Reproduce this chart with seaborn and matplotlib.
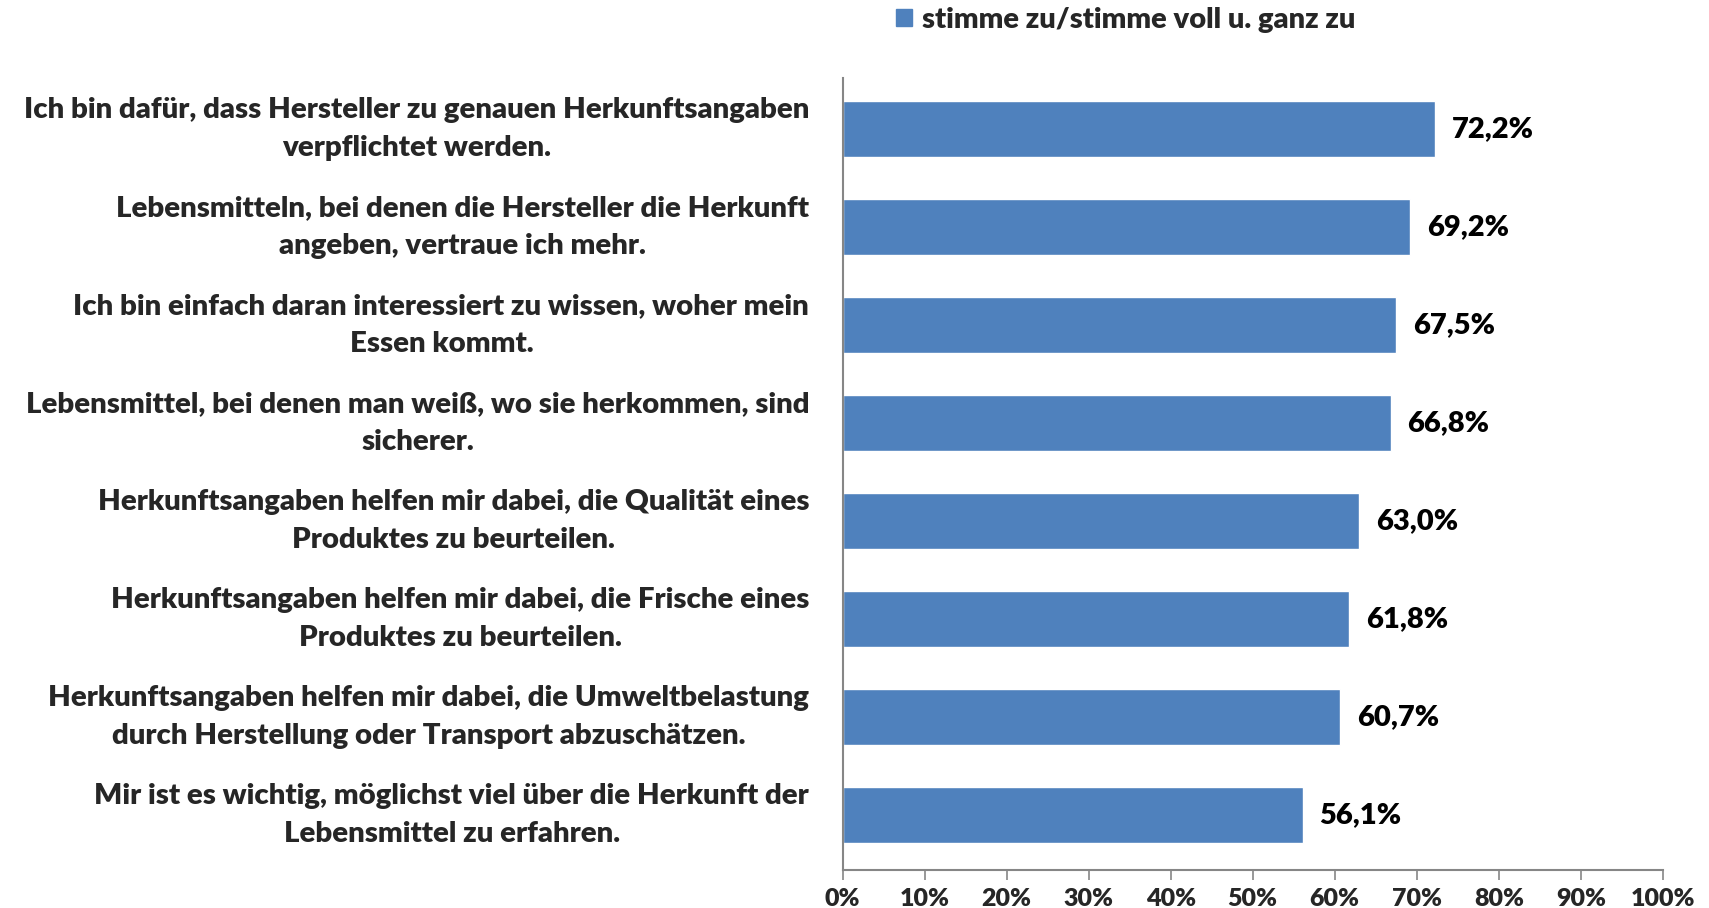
import matplotlib
matplotlib.use("Agg")
import matplotlib.pyplot as plt
import matplotlib.patches as mpatches
from matplotlib.ticker import PercentFormatter
import pandas as pd
import seaborn as sns

statements = [
    "Ich bin dafür, dass Hersteller zu genauen Herkunftsangaben\nverpflichtet werden.",
    "Lebensmitteln, bei denen die Hersteller die Herkunft\nangeben, vertraue ich mehr.",
    "Ich bin einfach daran interessiert zu wissen, woher mein\nEssen kommt.",
    "Lebensmittel, bei denen man weiß, wo sie herkommen, sind\nsicherer.",
    "Herkunftsangaben helfen mir dabei, die Qualität eines\nProduktes zu beurteilen.",
    "Herkunftsangaben helfen mir dabei, die Frische eines\nProduktes zu beurteilen.",
    "Herkunftsangaben helfen mir dabei, die Umweltbelastung\ndurch Herstellung oder Transport abzuschätzen.",
    "Mir ist es wichtig, möglichst viel über die Herkunft der\nLebensmittel zu erfahren.",
]
agree_pct = [72.2, 69.2, 67.5, 66.8, 63.0, 61.8, 60.7, 56.1]
series_name = "stimme zu/stimme voll u. ganz zu"
x_ticks = [0, 10, 20, 30, 40, 50, 60, 70, 80, 90, 100]

BAR_COLOR = "#4F81BD"
AXIS_COLOR = "#868686"
WEIGHT = 800


def main() -> None:
    sns.set_theme(style="white")
    plt.rcParams["font.family"] = ["Lato", "DejaVu Sans"]
    plt.rcParams["font.weight"] = WEIGHT

    df = pd.DataFrame({"statement": statements, "pct": agree_pct})

    fig = plt.figure(figsize=(17.09, 9.08), dpi=100)
    ax = fig.add_axes([0.493, 0.042, 0.480, 0.872])

    sns.barplot(data=df, x="pct", y="statement", orient="h", color=BAR_COLOR,
                saturation=1, width=0.57, ax=ax)

    # value labels, German decimal comma
    for patch, v in zip(ax.patches, agree_pct):
        ax.annotate(f"{v:.1f}".replace(".", ",") + "%",
                    xy=(patch.get_width(), patch.get_y() + patch.get_height() / 2),
                    xytext=(12, 0), textcoords="offset points",
                    ha="left", va="center", fontsize=21, fontweight=WEIGHT,
                    color="black")

    ax.set_xlim(0, 100)
    ax.set_ylim(7.56, -0.52)
    ax.set_xticks(x_ticks)
    ax.xaxis.set_major_formatter(PercentFormatter(xmax=100, decimals=0))
    ax.set_xlabel("")
    ax.set_ylabel("")

    for side in ["top", "right"]:
        ax.spines[side].set_visible(False)
    for side in ["left", "bottom"]:
        ax.spines[side].set_color(AXIS_COLOR)
        ax.spines[side].set_linewidth(1.5)

    ax.tick_params(axis="x", direction="out", length=7, width=1.2, color=AXIS_COLOR,
                   labelsize=18, pad=6, bottom=True)
    ax.tick_params(axis="y", length=0, labelsize=21.2, pad=24)
    for lbl in ax.get_xticklabels():
        lbl.set_fontweight(WEIGHT)
    for lbl in ax.get_yticklabels():
        lbl.set_fontweight(WEIGHT)
        lbl.set_multialignment("center")
        lbl.set_verticalalignment("center")
        lbl.set_linespacing(1.6)

    handle = mpatches.Patch(color=BAR_COLOR, label=series_name)
    fig.legend(handles=[handle], loc="center left", bbox_to_anchor=(0.509, 0.978),
               frameon=False, handlelength=0.55, handleheight=0.55,
               handletextpad=0.35, prop={"weight": WEIGHT, "size": 21})

    fig.savefig("out.png", dpi=100)
    plt.close(fig)


if __name__ == "__main__":
    main()
